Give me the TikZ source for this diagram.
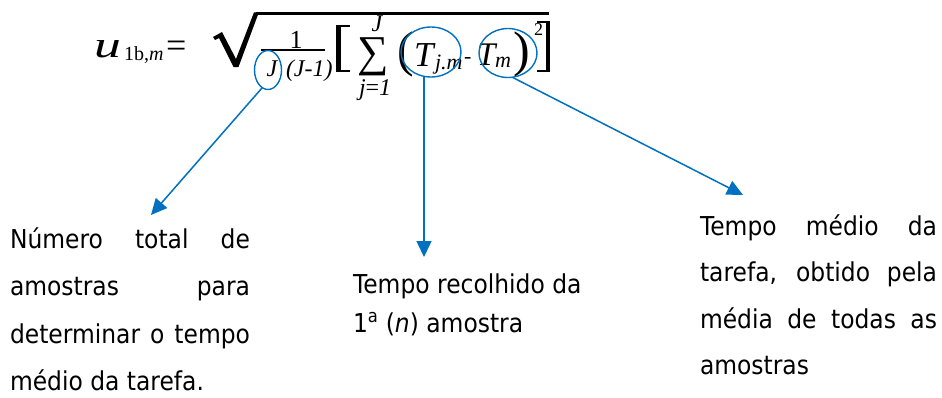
\documentclass[tikz,border=0pt]{standalone}
\usepackage{fontspec}
\setmainfont{Liberation Serif}
\newfontfamily\tah{DejaVu Sans}[FakeStretch=0.9]
\usetikzlibrary{arrows.meta,shapes.geometric}
\definecolor{ablue}{RGB}{0,112,192}
\newcommand{\fs}[1]{\fontsize{#1}{#1}\selectfont}
\begin{document}
\begin{tikzpicture}[x=1pt,y=-1pt,
  eq/.style={inner sep=0pt, outer sep=0pt, anchor=base west},
  eqc/.style={inner sep=0pt, outer sep=0pt, anchor=base},
  ring/.style={draw=ablue, line width=1.4pt, ellipse, inner sep=0pt, outer sep=0pt},
  callout/.style={draw=ablue, line width=1.5pt, -{Triangle[length=16pt,width=15pt]}},
  para/.style={inner sep=0pt, outer sep=0pt, anchor=base west, font=\tah\fontsize{26}{#1}\selectfont}]
\useasboundingbox (0,0) rectangle (942,397);

% ---- equation ----
\node[eq, font=\fs{37}] (u) at (94,57) {\scalebox{1.45}[1]{\itshape u}};
\node[eq, font=\fs{20}] (usub) at (124,60) {1b,\itshape m};
\node[eq, font=\fs{36}] (eqs) at (166,57) {=};
% radical
\fill (213,37) -- (222,32) -- (236,59) -- (254,12.3) -- (258,12.3) -- (258,14.6) -- (238.5,67) -- (233.5,67) -- (219,38) -- (215,40) -- cycle;
\fill (256,12.3) rectangle (549,14.6);
% fraction
\node[eqc, font=\fs{26}] (num) at (296,48) {1};
\draw[line width=1.2pt] (261,50) -- (325,50);
\node[eqc, font=\fs{24}\itshape] (dj) at (272,76) {J};
\node[eq, font=\fs{24}\itshape] (djm) at (286,76) {(J-1)};
% brackets
\fill (336,24.5) rectangle (340.5,71.5);
\fill (336,24.5) rectangle (350,26.5);
\fill (336,69.5) rectangle (350,71.5);
\fill (545.5,21) rectangle (550,72);
\fill (537,21) rectangle (550,23);
\fill (537,70) rectangle (550,72);
% sum
\node[eqc, font=\fs{44}] (sum) at (373,66) {\symbol{"2211}};
\node[eqc, font=\fs{24}\itshape] (sup) at (377,31) {J};
\node[eq, font=\fs{24}] (lim) at (359,95) {{\itshape j}={\itshape 1}};
% terms
\node[eq, font=\fs{50}] (lp) at (397.5,66) {(};
\node[eq, font=\fs{35}\itshape] (t1) at (lp.base east) {T};
\node[eq, font=\fs{22}\itshape] (t1s) at (435,69) {j.m};
\node[eq, font=\fs{22}] (mn) at (464,63.5) {-};
\node[eq, font=\fs{33}\itshape] (t2) at (477,65) {T};
\node[eq, font=\fs{22}\itshape] (t2s) at (495,67) {m};
\node[eq, font=\fs{50}] (rp) at (513,66) {)};
\node[eq, font=\fs{18}] (sq) at (534,35) {2};

% ---- rings ----
\node[ring, minimum width=27pt, minimum height=39pt] (e1) at (268,70) {};
\node[ring, minimum width=60pt, minimum height=50pt] (e2) at (431,52) {};
\node[ring, minimum width=58pt, minimum height=49pt] (e3) at (508,53) {};

% ---- arrow targets ----
\coordinate (a1) at (151,215);
\coordinate (a2) at (424,257);
\coordinate (a3) at (743,195);
\draw[callout] (e1.-108) -- (a1);
\draw[callout] (a2 |- e2.south) -- (a2);
\draw[callout] (e3.-80) -- (a3);

% ---- texts ----
\node[para=47.5, text width=240pt, align=justify] (tl) at (10,248)
  {Número total de\linebreak amostras para\linebreak determinar o tempo\linebreak médio da tarefa.};
\node[para=39, align=left] (tm) at (353,332)
  {Tempo recolhido da\\1\textsuperscript{a} ({\itshape n}) amostra};
\node[para=46.5, text width=237pt, align=justify] (tr) at (700,235)
  {Tempo médio da\linebreak tarefa, obtido pela\linebreak média de todas as\linebreak amostras};
\end{tikzpicture}
\end{document}
